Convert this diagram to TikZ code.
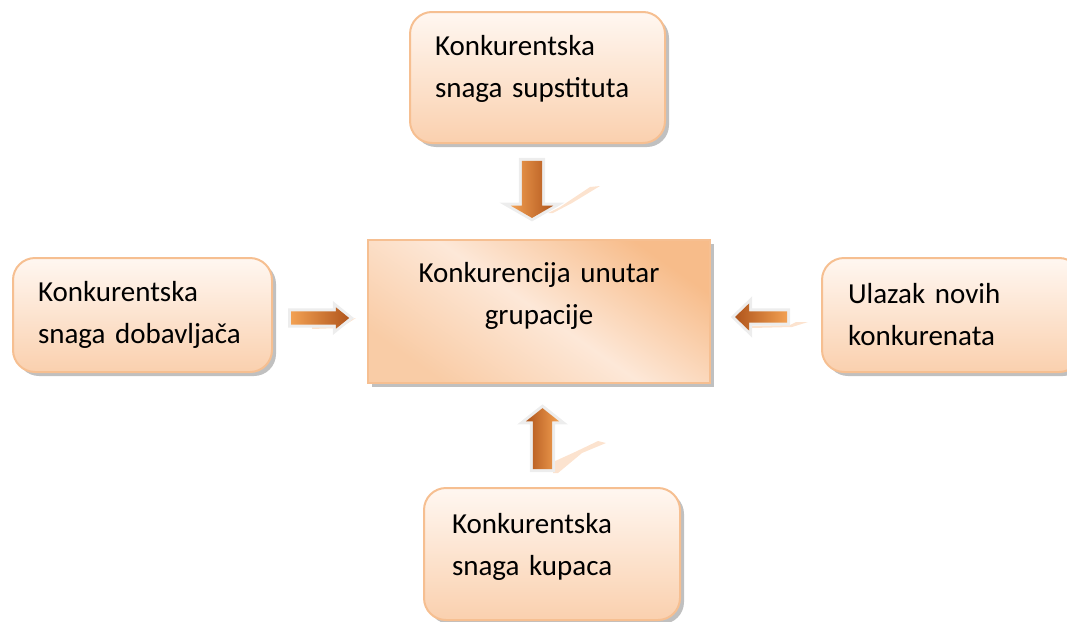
\documentclass[tikz,border=0pt]{standalone}
\usepackage{fontspec}
\setmainfont{Carlito}
\usetikzlibrary{shapes.arrows,shadows}
\definecolor{boxborder}{HTML}{F6BF91}
\definecolor{boxtop}{HTML}{FFF7F1}
\definecolor{boxbot}{HTML}{FAD0AE}
\definecolor{ctrdark}{HTML}{F7BC8A}
\definecolor{ctrlight}{HTML}{FDE8D8}
\definecolor{ctrmid}{HTML}{F9CCA6}
\definecolor{arrlight}{HTML}{F2A052}
\definecolor{arrdark}{HTML}{B0551C}
\definecolor{arrshadow}{HTML}{FCE3CF}
\newcommand{\lowpad}[1]{\rule[-#1]{0pt}{#1}}
\begin{document}
\begin{tikzpicture}[x=1pt,y=-1pt,
  boxtext/.style={font=\fontsize{29}{42}\selectfont, text=black},
  roundbox/.style={boxtext, rectangle, rounded corners=22pt, draw=boxborder, line width=2pt,
    top color=boxtop, bottom color=boxbot, align=left,
    drop shadow={shadow xshift=4pt, shadow yshift=-4pt, fill=black!55, opacity=0.45}},
  ctrbox/.style={boxtext, rectangle, draw=boxborder, line width=1.5pt,
    top color=ctrdark, bottom color=ctrmid, middle color=ctrlight, shading angle=-35, align=center,
    drop shadow={shadow xshift=4pt, shadow yshift=-4pt, fill=black!55, opacity=0.45}},
  blockarrow/.style={single arrow, inner xsep=0pt, single arrow head indent=0pt,
    preaction={draw=black!7, line width=6pt, line join=miter}},
  arrshade/.style={fill=arrshadow, draw=none}
]
\useasboundingbox (0,0) rectangle (1067,621);

% shadows of the arrows
\fill[arrshade] (548,213) -- (560,207) -- (590,187) -- (600,186) -- (572,203) -- (553,213) -- cycle;
\fill[arrshade] (553,473) -- (553,462) -- (575,452) -- (598,441) -- (606,443) -- (582,453) -- (558,473) -- cycle;
\fill[arrshade] (312,329) -- (340,328) -- (356,318) -- (347,320) -- (338,326) -- (312,327) -- cycle;
\fill[arrshade] (752,328) -- (792,327) -- (808,322) -- (796,322) -- (790,325) -- (752,326) -- cycle;

% boxes
\node[roundbox, minimum width=255pt, minimum height=131pt, text width=205pt]
  (sup) at (537.5,77.5) {Konkurentska\\snaga supstituta\lowpad{23pt}};
\node[roundbox, minimum width=259pt, minimum height=114pt, text width=209pt]
  (dob) at (142.5,315) {Konkurentska\\snaga dobavljača};
\node[roundbox, minimum width=259pt, minimum height=114pt, text width=207pt]
  (nov) at (951.5,315) {Ulazak novih\\konkurenata};
\node[roundbox, minimum width=256pt, minimum height=132pt, text width=200pt]
  (kup) at (552,554) {Konkurentska\\snaga kupaca\lowpad{20pt}};
\node[ctrbox, minimum width=342pt, minimum height=143pt, text width=320pt]
  (ctr) at (539,311.5) {Konkurencija unutar\\grupacije\lowpad{37pt}};

% block arrows
\node[blockarrow, rotate=-90, minimum height=57pt, minimum width=42pt, inner ysep=10pt,
  single arrow head extend=11pt, single arrow tip angle=120,
  left color=arrlight, right color=arrdark] (dnA) at (532,186.5) {};
\node[blockarrow, minimum height=58pt, minimum width=21pt, inner ysep=6.5pt,
  single arrow head extend=4pt, single arrow tip angle=78,
  left color=arrlight, right color=arrdark] (rA) at (316,318) {};
\node[blockarrow, rotate=180, minimum height=52pt, minimum width=27pt, inner ysep=5.5pt,
  single arrow head extend=8pt, single arrow tip angle=88,
  left color=arrdark, right color=arrlight] (lA) at (764,317) {};
\node[blockarrow, rotate=90, minimum height=61pt, minimum width=33pt, inner ysep=9.5pt,
  single arrow head extend=7pt, single arrow tip angle=103,
  left color=arrdark, right color=arrlight] (upA) at (542.5,442.5) {};
\end{tikzpicture}
\end{document}
